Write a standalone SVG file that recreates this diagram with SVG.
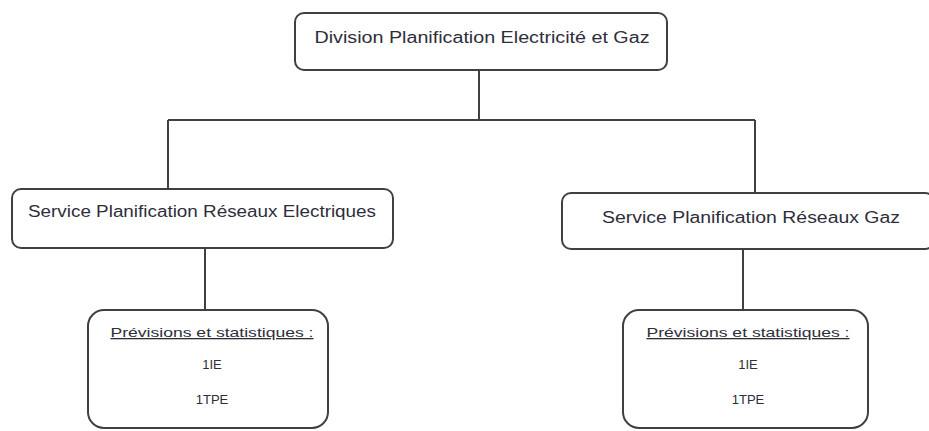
<svg xmlns="http://www.w3.org/2000/svg" width="929" height="431" viewBox="0 0 929 431">
<style>
.box{fill:#fff;stroke:#404040;stroke-width:2}
.con{fill:none;stroke:#404040;stroke-width:2}
.t{font-family:"Liberation Sans",Arial,sans-serif;fill:#2e2e3a;text-anchor:middle}
.big{font-size:16px}
.sm{font-size:13px}
</style>
<rect width="929" height="431" fill="#fff"/>
<g id="connectors">
<path class="con" d="M479 70 V120 M168 120 H755 M168 120 V189 M755 120 V193 M205 248 V310 M743 248 V310"/>
</g>
<g id="division">
<rect class="box" x="295" y="13" width="372" height="57" rx="9"/>
<text class="t big" x="482" y="43" textLength="335" lengthAdjust="spacingAndGlyphs">Division Planification Electricité et Gaz</text>
</g>
<g id="service-elec">
<rect class="box" x="12" y="189" width="381" height="59" rx="9"/>
<text class="t big" x="202" y="217" textLength="348" lengthAdjust="spacingAndGlyphs">Service Planification Réseaux Electriques</text>
</g>
<g id="service-gaz">
<rect class="box" x="562" y="193" width="372" height="56" rx="9"/>
<text class="t big" x="751" y="223" textLength="298" lengthAdjust="spacingAndGlyphs">Service Planification Réseaux Gaz</text>
</g>
<g id="prev-elec">
<rect class="box" x="88" y="310" width="240" height="118" rx="16"/>
<text class="t sm" x="212" y="337" textLength="203" lengthAdjust="spacingAndGlyphs" text-decoration="underline">Prévisions et statistiques :</text>
<text class="t sm" x="212" y="369">1IE</text>
<text class="t sm" x="212" y="404">1TPE</text>
</g>
<g id="prev-gaz">
<rect class="box" x="623" y="310" width="245" height="118" rx="16"/>
<text class="t sm" x="748" y="337" textLength="203" lengthAdjust="spacingAndGlyphs" text-decoration="underline">Prévisions et statistiques :</text>
<text class="t sm" x="748" y="369">1IE</text>
<text class="t sm" x="748" y="404">1TPE</text>
</g>
</svg>
